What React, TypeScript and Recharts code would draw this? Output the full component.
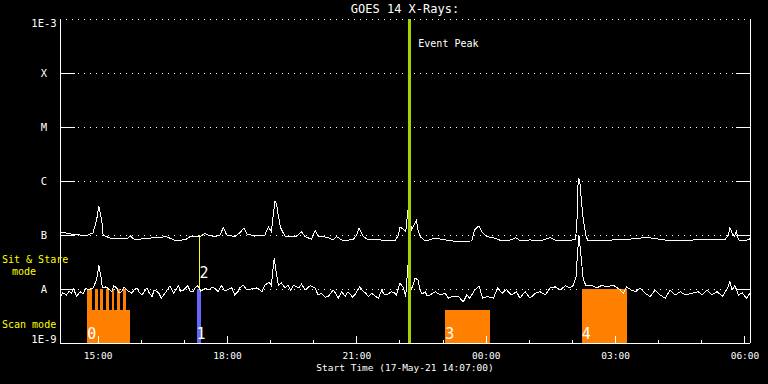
import React from "react";
import { LineChart, Line, XAxis, YAxis, CartesianGrid, ReferenceArea, ReferenceLine } from "recharts";

// time axis: minutes after the start time, 17-May-21 14:07:00
const START_MIN = 14 * 60 + 7;

// GOES long channel (upper curve), log10 of the flux
const longTimes = [
  0, 14, 28, 39, 46, 51, 54, 58, 60, 70,
  93, 98, 104, 121, 135, 148, 160, 174, 181, 195,
  202, 206, 216, 223, 227, 232, 243, 250, 256, 260,
  271, 285, 290, 294, 299, 301, 304, 307, 313, 321,
  329, 336, 341, 350, 355, 359, 371, 380, 385, 394,
  408, 413, 416, 422, 429, 441, 455, 466, 471, 473,
  478, 481, 484, 487, 489, 493, 496, 498, 501, 508,
  522, 531, 545, 559, 573, 577, 583, 588, 594, 605,
  615, 628, 634, 641, 654, 668, 682, 691, 705, 717,
  719, 721, 723, 725, 728, 732, 735, 751, 770, 788,
  801, 819, 835, 851, 870, 888, 907, 925, 930, 932,
  935, 938, 941, 944, 953, 960,
];
const longLogFlux = [
  -6.94, -6.98, -7.0, -7.0, -6.96, -6.72, -6.46, -6.72, -7.0, -7.06,
  -7.07, -7.02, -7.09, -7.06, -7.05, -7.03, -7.1, -7.09, -7.03, -7.03,
  -6.97, -7.0, -7.03, -7.0, -6.86, -7.0, -7.03, -6.96, -6.87, -6.98,
  -7.02, -7.0, -6.85, -6.94, -6.38, -6.41, -6.66, -6.87, -7.02, -7.03,
  -7.02, -6.94, -7.03, -7.08, -6.92, -7.02, -7.04, -7.09, -7.03, -7.11,
  -7.08, -7.0, -6.87, -7.03, -7.09, -7.08, -7.11, -7.11, -7.0, -6.85,
  -6.9, -6.94, -6.54, -6.66, -6.91, -6.81, -6.72, -6.91, -7.03, -7.11,
  -7.06, -7.08, -7.11, -7.12, -7.11, -6.9, -6.83, -6.96, -7.03, -7.06,
  -7.11, -7.09, -7.05, -7.11, -7.09, -7.11, -7.05, -7.11, -7.11, -7.08,
  -6.85, -5.95, -5.98, -6.29, -6.72, -7.03, -7.11, -7.11, -7.09, -7.09,
  -7.06, -7.05, -7.08, -7.11, -7.11, -7.08, -7.09, -7.09, -7.0, -6.86,
  -6.96, -7.03, -6.94, -7.09, -7.11, -7.07,
];

// GOES short channel (lower curve), log10 of the flux
const shortTimes = [
  0, 4, 9, 13, 16, 19, 23, 28, 32, 36,
  39, 46, 51, 54, 57, 59, 64, 72, 75, 79,
  82, 86, 89, 93, 100, 103, 107, 110, 114, 121,
  124, 128, 131, 135, 138, 141, 146, 153, 158, 165,
  167, 172, 178, 181, 185, 188, 192, 196, 202, 206,
  213, 220, 225, 228, 232, 239, 243, 248, 250, 255,
  260, 266, 274, 281, 285, 291, 294, 298, 301, 304,
  308, 313, 317, 321, 325, 332, 336, 341, 348, 355,
  359, 364, 369, 373, 380, 384, 387, 392, 397, 400,
  403, 407, 410, 417, 422, 425, 429, 434, 438, 443,
  448, 450, 455, 461, 465, 468, 473, 478, 481, 484,
  487, 489, 494, 498, 501, 504, 508, 511, 515, 522,
  529, 536, 540, 545, 554, 561, 566, 570, 577, 583,
  588, 595, 603, 609, 615, 621, 628, 635, 640, 647,
  654, 661, 668, 675, 682, 689, 696, 703, 710, 714,
  718, 720, 722, 725, 728, 732, 739, 747, 754, 761,
  770, 779, 784, 788, 795, 801, 807, 814, 821, 828,
  835, 842, 849, 856, 863, 870, 879, 888, 893, 900,
  907, 914, 922, 929, 932, 935, 939, 944, 949, 955,
  960,
];
const shortLogFlux = [
  -8.17, -8.07, -8.11, -8.04, -8.08, -8.0, -8.14, -8.05, -8.09, -7.98,
  -8.02, -7.98, -7.83, -7.56, -7.77, -7.98, -7.96, -8.05, -7.94, -7.98,
  -8.07, -8.05, -7.96, -8.02, -8.08, -8.02, -7.98, -8.06, -8.11, -7.98,
  -8.07, -8.14, -8.02, -8.05, -8.09, -8.17, -8.08, -7.94, -8.08, -7.94,
  -8.04, -8.02, -7.94, -8.04, -8.05, -7.98, -7.94, -8.04, -7.98, -8.02,
  -7.96, -8.05, -7.93, -8.02, -8.02, -7.98, -8.11, -8.04, -7.98, -7.93,
  -8.02, -8.0, -7.98, -8.05, -7.93, -7.87, -7.94, -7.43, -7.71, -7.93,
  -7.89, -7.98, -7.93, -8.02, -7.93, -7.98, -7.91, -8.02, -7.94, -7.98,
  -8.11, -8.08, -8.15, -8.14, -8.02, -8.09, -8.17, -8.05, -8.14, -8.06,
  -8.08, -8.15, -8.11, -7.96, -8.05, -8.07, -8.14, -8.08, -8.13, -8.17,
  -8.01, -8.09, -8.11, -8.05, -8.07, -8.11, -7.89, -7.98, -8.14, -7.56,
  -7.83, -8.02, -7.8, -7.83, -8.02, -8.09, -8.05, -8.13, -8.11, -8.05,
  -8.11, -8.08, -8.17, -8.14, -8.13, -8.24, -8.11, -8.17, -8.02, -7.94,
  -8.17, -8.14, -8.17, -7.98, -8.08, -8.01, -8.11, -8.05, -8.17, -8.05,
  -8.17, -8.08, -8.05, -8.11, -7.98, -7.96, -8.02, -7.94, -7.98, -7.93,
  -7.77, -7.34, -7.0, -7.4, -7.83, -7.94, -7.93, -7.98, -7.93, -7.96,
  -7.93, -8.01, -8.08, -7.96, -8.02, -8.05, -7.98, -8.08, -8.14, -8.02,
  -8.11, -8.17, -8.02, -8.11, -8.05, -8.11, -8.08, -8.05, -8.11, -8.02,
  -8.11, -8.05, -8.13, -7.98, -7.87, -8.02, -7.94, -8.11, -8.07, -8.17,
  -8.08,
];

const levelTicks = [-9, -8, -7, -6, -5, -4, -3];
const levelLabels = ["1E-9", "A", "B", "C", "M", "X", "1E-3"];
const hourTicks = [53, 113, 173, 233, 293, 353, 413, 473, 533, 593, 653, 713, 773, 833, 893, 953];

// observing windows
const scanLabels = ["0", "3", "4"];
const scanStarts = [38, 536, 726];
const scanEnds = [97, 598, 789];
const scanTops = [-8.39, -8.39, -8.0];
const burstStarts = [38, 48.7, 56, 64, 72, 79.7, 87];
const burstEnds = [45, 52.5, 60, 67.7, 75.5, 83.5, 91.4];
const stareStart = 190;
const stareEnd = 195.5;
const stareLine = 194;
const eventPeak = 486;

const W = 768;
const H = 384;
const PLOT_LEFT = 60;
const PLOT_RIGHT = 750;
const PLOT_TOP = 19;
const PLOT_BOTTOM = 343;
const FONT = '"DejaVu Sans Mono", "Liberation Mono", monospace';
const ORANGE = "#ff8000";

const longData = longTimes.map((t, i) => ({ t, v: longLogFlux[i] }));
const shortData = shortTimes.map((t, i) => ({ t, v: shortLogFlux[i] }));

const clock = (t: number) => {
  const m = (START_MIN + t) % 1440;
  const hh = String(Math.floor(m / 60)).padStart(2, "0");
  const mm = String(Math.round(m % 60)).padStart(2, "0");
  return `${hh}:${mm}`;
};
const isMajor = (t: number) => (t - hourTicks[0]) % 180 === 0;

const BottomTick = (props: any) => {
  const { x, payload } = props;
  const major = isMajor(payload.value);
  return (
    <g>
      <line x1={x} x2={x} y1={PLOT_BOTTOM} y2={PLOT_BOTTOM - (major ? 7 : 3)} stroke="#fff" />
      {major && (
        <text x={x} y={359} textAnchor="middle" fill="#fff" fontSize={9.5} fontFamily={FONT}>
          {clock(payload.value)}
        </text>
      )}
    </g>
  );
};

const TopTick = (props: any) => {
  const { x, payload } = props;
  const major = isMajor(payload.value);
  return <line x1={x} x2={x} y1={PLOT_TOP} y2={PLOT_TOP + (major ? 7 : 3)} stroke="#fff" />;
};

const LevelTick = (props: any) => {
  const { y, payload } = props;
  const v = payload.value;
  const inner = v > -9 && v < -3;
  const dy = v === -3 ? 8 : v === -9 ? 0 : 4;
  return (
    <g>
      {inner && <line x1={PLOT_LEFT} x2={PLOT_LEFT + 15} y1={y} y2={y} stroke="#fff" />}
      {inner && <line x1={PLOT_RIGHT - 14} x2={PLOT_RIGHT} y1={y} y2={y} stroke="#fff" />}
      <text x={44} y={y + dy} textAnchor="middle" fill="#fff" fontSize={10.5} fontFamily={FONT}>
        {levelLabels[levelTicks.indexOf(v)]}
      </text>
    </g>
  );
};

const windowLabel = (text: string) => (props: any) => {
  const vb = props.viewBox;
  return (
    <text x={vb.x} y={vb.y + vb.height - 4} fill="#fff" fontSize={15} fontFamily={FONT}>
      {text}
    </text>
  );
};

const stareLabel = (props: any) => {
  const vb = props.viewBox;
  return (
    <text x={vb.x} y={vb.y + vb.height - 11} fill="#fff" fontSize={15} fontFamily={FONT}>
      2
    </text>
  );
};

const eventLabel = (props: any) => {
  const vb = props.viewBox;
  return (
    <text x={vb.x + 9} y={vb.y + 28} fill="#fff" fontSize={10} fontFamily={FONT}>
      Event Peak
    </text>
  );
};

export default function App() {
  return (
    <div
      style={{
        position: "absolute",
        left: 0,
        top: 0,
        width: W,
        height: H,
        background: "#000",
        shapeRendering: "crispEdges",
      }}
    >
      <LineChart width={W} height={H} margin={{ top: PLOT_TOP, right: 0, bottom: 0, left: 0 }}>
        <CartesianGrid vertical={false} stroke="#fff" strokeDasharray="1 5" />
        <XAxis
          dataKey="t"
          type="number"
          domain={[0, 960]}
          allowDataOverflow
          ticks={hourTicks}
          interval={0}
          height={H - PLOT_BOTTOM}
          axisLine={{ stroke: "#fff" }}
          tickLine={false}
          tick={BottomTick}
        />
        <XAxis
          xAxisId="top"
          orientation="top"
          dataKey="t"
          type="number"
          domain={[0, 960]}
          allowDataOverflow
          ticks={hourTicks}
          interval={0}
          height={0}
          axisLine={{ stroke: "#fff" }}
          tickLine={false}
          tick={TopTick}
        />
        <YAxis
          type="number"
          domain={[-9, -3]}
          ticks={levelTicks}
          interval={0}
          width={PLOT_LEFT}
          axisLine={{ stroke: "#fff" }}
          tickLine={false}
          tick={LevelTick}
        />
        <YAxis
          yAxisId="r"
          orientation="right"
          type="number"
          domain={[-9, -3]}
          width={W - PLOT_RIGHT}
          axisLine={{ stroke: "#fff" }}
          tickLine={false}
          tick={false}
        />

        {burstStarts.map((s, i) => (
          <ReferenceArea key={`b${i}`} x1={s} x2={burstEnds[i]} y1={-9} y2={-8} fill={ORANGE} fillOpacity={1} stroke="none" />
        ))}
        {scanStarts.map((s, i) => (
          <ReferenceArea
            key={`s${i}`}
            x1={s}
            x2={scanEnds[i]}
            y1={-9}
            y2={scanTops[i]}
            fill={ORANGE}
            fillOpacity={1}
            stroke="none"
            label={windowLabel(scanLabels[i])}
          />
        ))}
        <ReferenceArea
          x1={stareStart}
          x2={stareEnd}
          y1={-9}
          y2={-8}
          fill="#6666ff"
          fillOpacity={1}
          stroke="none"
          label={windowLabel("1")}
        />
        <ReferenceLine
          segment={[
            { x: stareLine, y: -7 },
            { x: stareLine, y: -8 },
          ]}
          stroke="#ffff00"
          strokeWidth={1}
          label={stareLabel}
        />

        <Line data={longData} dataKey="v" type="linear" stroke="#fff" strokeWidth={1} dot={false} isAnimationActive={false} />
        <Line data={shortData} dataKey="v" type="linear" stroke="#fff" strokeWidth={1} dot={false} isAnimationActive={false} />

        <ReferenceLine x={eventPeak} stroke="#a4d400" strokeWidth={3} label={eventLabel} />
      </LineChart>

      <svg width={W} height={H} style={{ position: "absolute", left: 0, top: 0, pointerEvents: "none" }}>
        <text x={(PLOT_LEFT + PLOT_RIGHT) / 2} y={13} textAnchor="middle" fill="#fff" fontSize={12} fontFamily={FONT}>
          GOES 14 X-Rays:
        </text>
        <text x={(PLOT_LEFT + PLOT_RIGHT) / 2} y={371} textAnchor="middle" fill="#fff" fontSize={9.5} fontFamily={FONT}>
          Start Time (17-May-21 14:07:00)
        </text>
        <text x={2} y={263} fill="#ffff00" fontSize={10} fontFamily={FONT}>
          Sit &amp; Stare
        </text>
        <text x={12} y={275} fill="#ffff00" fontSize={10} fontFamily={FONT}>
          mode
        </text>
        <text x={2} y={328} fill="#ffff00" fontSize={10} fontFamily={FONT}>
          Scan mode
        </text>
      </svg>
    </div>
  );
}
